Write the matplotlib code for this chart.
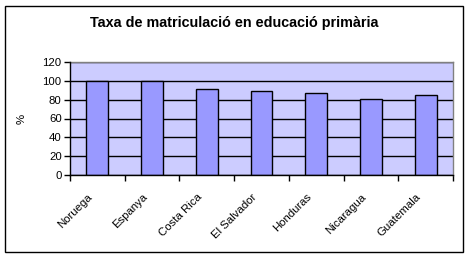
import matplotlib
matplotlib.use("Agg")
import matplotlib.pyplot as plt
from matplotlib.patches import Rectangle
from matplotlib.transforms import ScaledTranslation
import numpy as np

plt.rcParams['font.family'] = ['Liberation Sans', 'DejaVu Sans']

categories = ["Noruega", "Espanya", "Costa Rica", "El Salvador", "Honduras", "Nicaragua", "Guatemala"]
values = [100, 100, 91, 89, 87, 81, 85]
yticks = [0, 20, 40, 60, 80, 100, 120]
title = "Taxa de matriculació en educació primària"
ylabel = "%"

W, H = 468, 259
fig = plt.figure(figsize=(W/100, H/100), dpi=100)
fig.patch.set_facecolor('white')

# outer frame
fig.add_artist(Rectangle((5/W, 1-252/H), 458/W, 246/H, transform=fig.transFigure,
                         fill=False, edgecolor='black', linewidth=1.0))

left, right, top, bottom = 70, 453, 62, 175
ax = fig.add_axes([left/W, 1-bottom/H, (right-left)/W, (bottom-top)/H])
ax.set_facecolor('#CCCCFF')
n = len(categories)
x = np.arange(n)
ax.set_xlim(-0.5, n-0.5)
ax.set_ylim(0, 120)
ax.set_yticks(yticks)
ax.yaxis.grid(True, color='black', linewidth=1.0)
ax.set_axisbelow(True)
ax.bar(x, values, width=0.4, color='#9999FF', edgecolor='black', linewidth=1.0, zorder=3)

for s in ['top', 'right']:
    ax.spines[s].set_color('#808080')
    ax.spines[s].set_linewidth(1.0)
for s in ['left', 'bottom']:
    ax.spines[s].set_color('black')
    ax.spines[s].set_linewidth(1.0)
    ax.spines[s].set_zorder(4)

ax.set_xticks(np.arange(n+1)-0.5)
ax.set_xticklabels([])
ax.tick_params(axis='x', which='major', direction='out', length=4, width=1, color='black')
ax.tick_params(axis='y', direction='out', length=4, width=1, labelsize=8.2, pad=2)
ax.set_yticklabels([str(v) for v in yticks])

trans = ax.get_xaxis_transform() + ScaledTranslation(-10/100, -17/100, fig.dpi_scale_trans)
for xi, name in zip(x, categories):
    ax.text(xi, 0, name, transform=trans, rotation=45, ha='right', va='top',
            rotation_mode='anchor', fontsize=8.2, clip_on=False)

fig.text(22/W, 1-119/H, ylabel, rotation=90, ha='center', va='center', fontsize=8.2)
fig.text(234/W, 1-23/H, title, ha='center', va='center', fontsize=10.4, fontweight='bold')

fig.savefig("out.png", dpi=100)
